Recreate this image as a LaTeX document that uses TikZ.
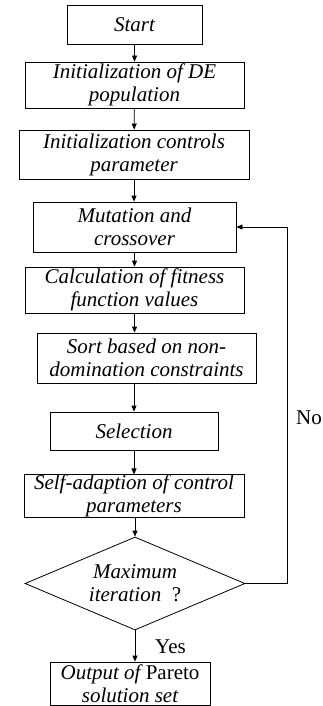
\documentclass[tikz,border=0pt]{standalone}
\usepackage{fontspec}
\setmainfont{Liberation Serif}
\usepackage{tikz}
\usetikzlibrary{arrows.meta, positioning, calc, shapes.geometric}

\begin{document}
\begin{tikzpicture}[x=1pt, y=-1pt, >={Triangle[length=6pt, width=5pt]},
  procbox/.style={draw, line width=0.8pt, inner sep=0pt, align=center,
    font=\fontsize{21}{23}\selectfont\itshape},
  decbox/.style={draw, diamond, line width=0.8pt, inner sep=0pt, align=center,
    aspect=2.37, font=\fontsize{21}{23}\selectfont\itshape},
  flow/.style={->, line width=0.8pt},
  tag/.style={font=\fontsize{21}{23}\selectfont, inner sep=0pt}]

  \useasboundingbox (0,0) rectangle (323,706);

  % --- process boxes ---
  \node[procbox, minimum width=135pt, minimum height=39pt] (start) at (134.5,24.5)
    {Start};
  \node[procbox, minimum width=219pt, minimum height=46pt] (initde) at (134.5,85)
    {Initialization of DE\\population};
  \node[procbox, minimum width=230pt, minimum height=49pt] (initctl) at (134,154.5)
    {Initialization controls\\parameter};
  \node[procbox, minimum width=203pt, minimum height=50pt] (mut) at (134.5,227)
    {Mutation and\\crossover};
  \node[procbox, minimum width=219pt, minimum height=46pt] (fit) at (134.5,290)
    {Calculation of fitness\\function values};
  \node[procbox, minimum width=219pt, minimum height=50pt] (sort) at (146.5,358)
    {Sort based on non-\\domination constraints};
  \node[procbox, minimum width=168pt, minimum height=38pt] (sel) at (134,431)
    {Selection};
  \node[procbox, minimum width=220pt, minimum height=42pt] (self) at (134,496)
    {Self-adaption of control\\parameters};

  % --- decision ---
  \node[decbox, minimum width=220pt, minimum height=93pt] (dec) at (135,583.5)
    {Maximum\\iteration\ \ \upshape ?};

  % --- output (cut by the bottom edge) ---
  \node[procbox, minimum width=160pt, minimum height=43pt] (out) at (130,683.5)
    {Output of \upshape Pareto\\solution set};

  % --- main flow ---
  \draw[flow] (start) -- (initde);
  \draw[flow] (initde) -- (initctl);
  \draw[flow] (initctl) -- (initctl |- mut.north);
  \draw[flow] (mut) -- (mut |- fit.north);
  \draw[flow] (fit.south) -- (fit.south |- sort.north);
  \draw[flow] (sel.north |- sort.south) -- (sel.north);
  \draw[flow] (sel) -- (sel |- self.north);
  \draw[flow] (self.south -| dec.north) -- (dec.north);
  \draw[flow] (dec.south) -- (dec.south |- out.north);

  % --- loop back ---
  \coordinate (loop) at (287,583.5);
  \draw[flow] (dec.east) -- (loop) |- (mut.east);

  % --- branch labels ---
  \node[tag, anchor=base west] (no) at (296,424) {No};
  \node[tag, anchor=base west] (yes) at (155,653) {Yes};

\end{tikzpicture}
\end{document}
